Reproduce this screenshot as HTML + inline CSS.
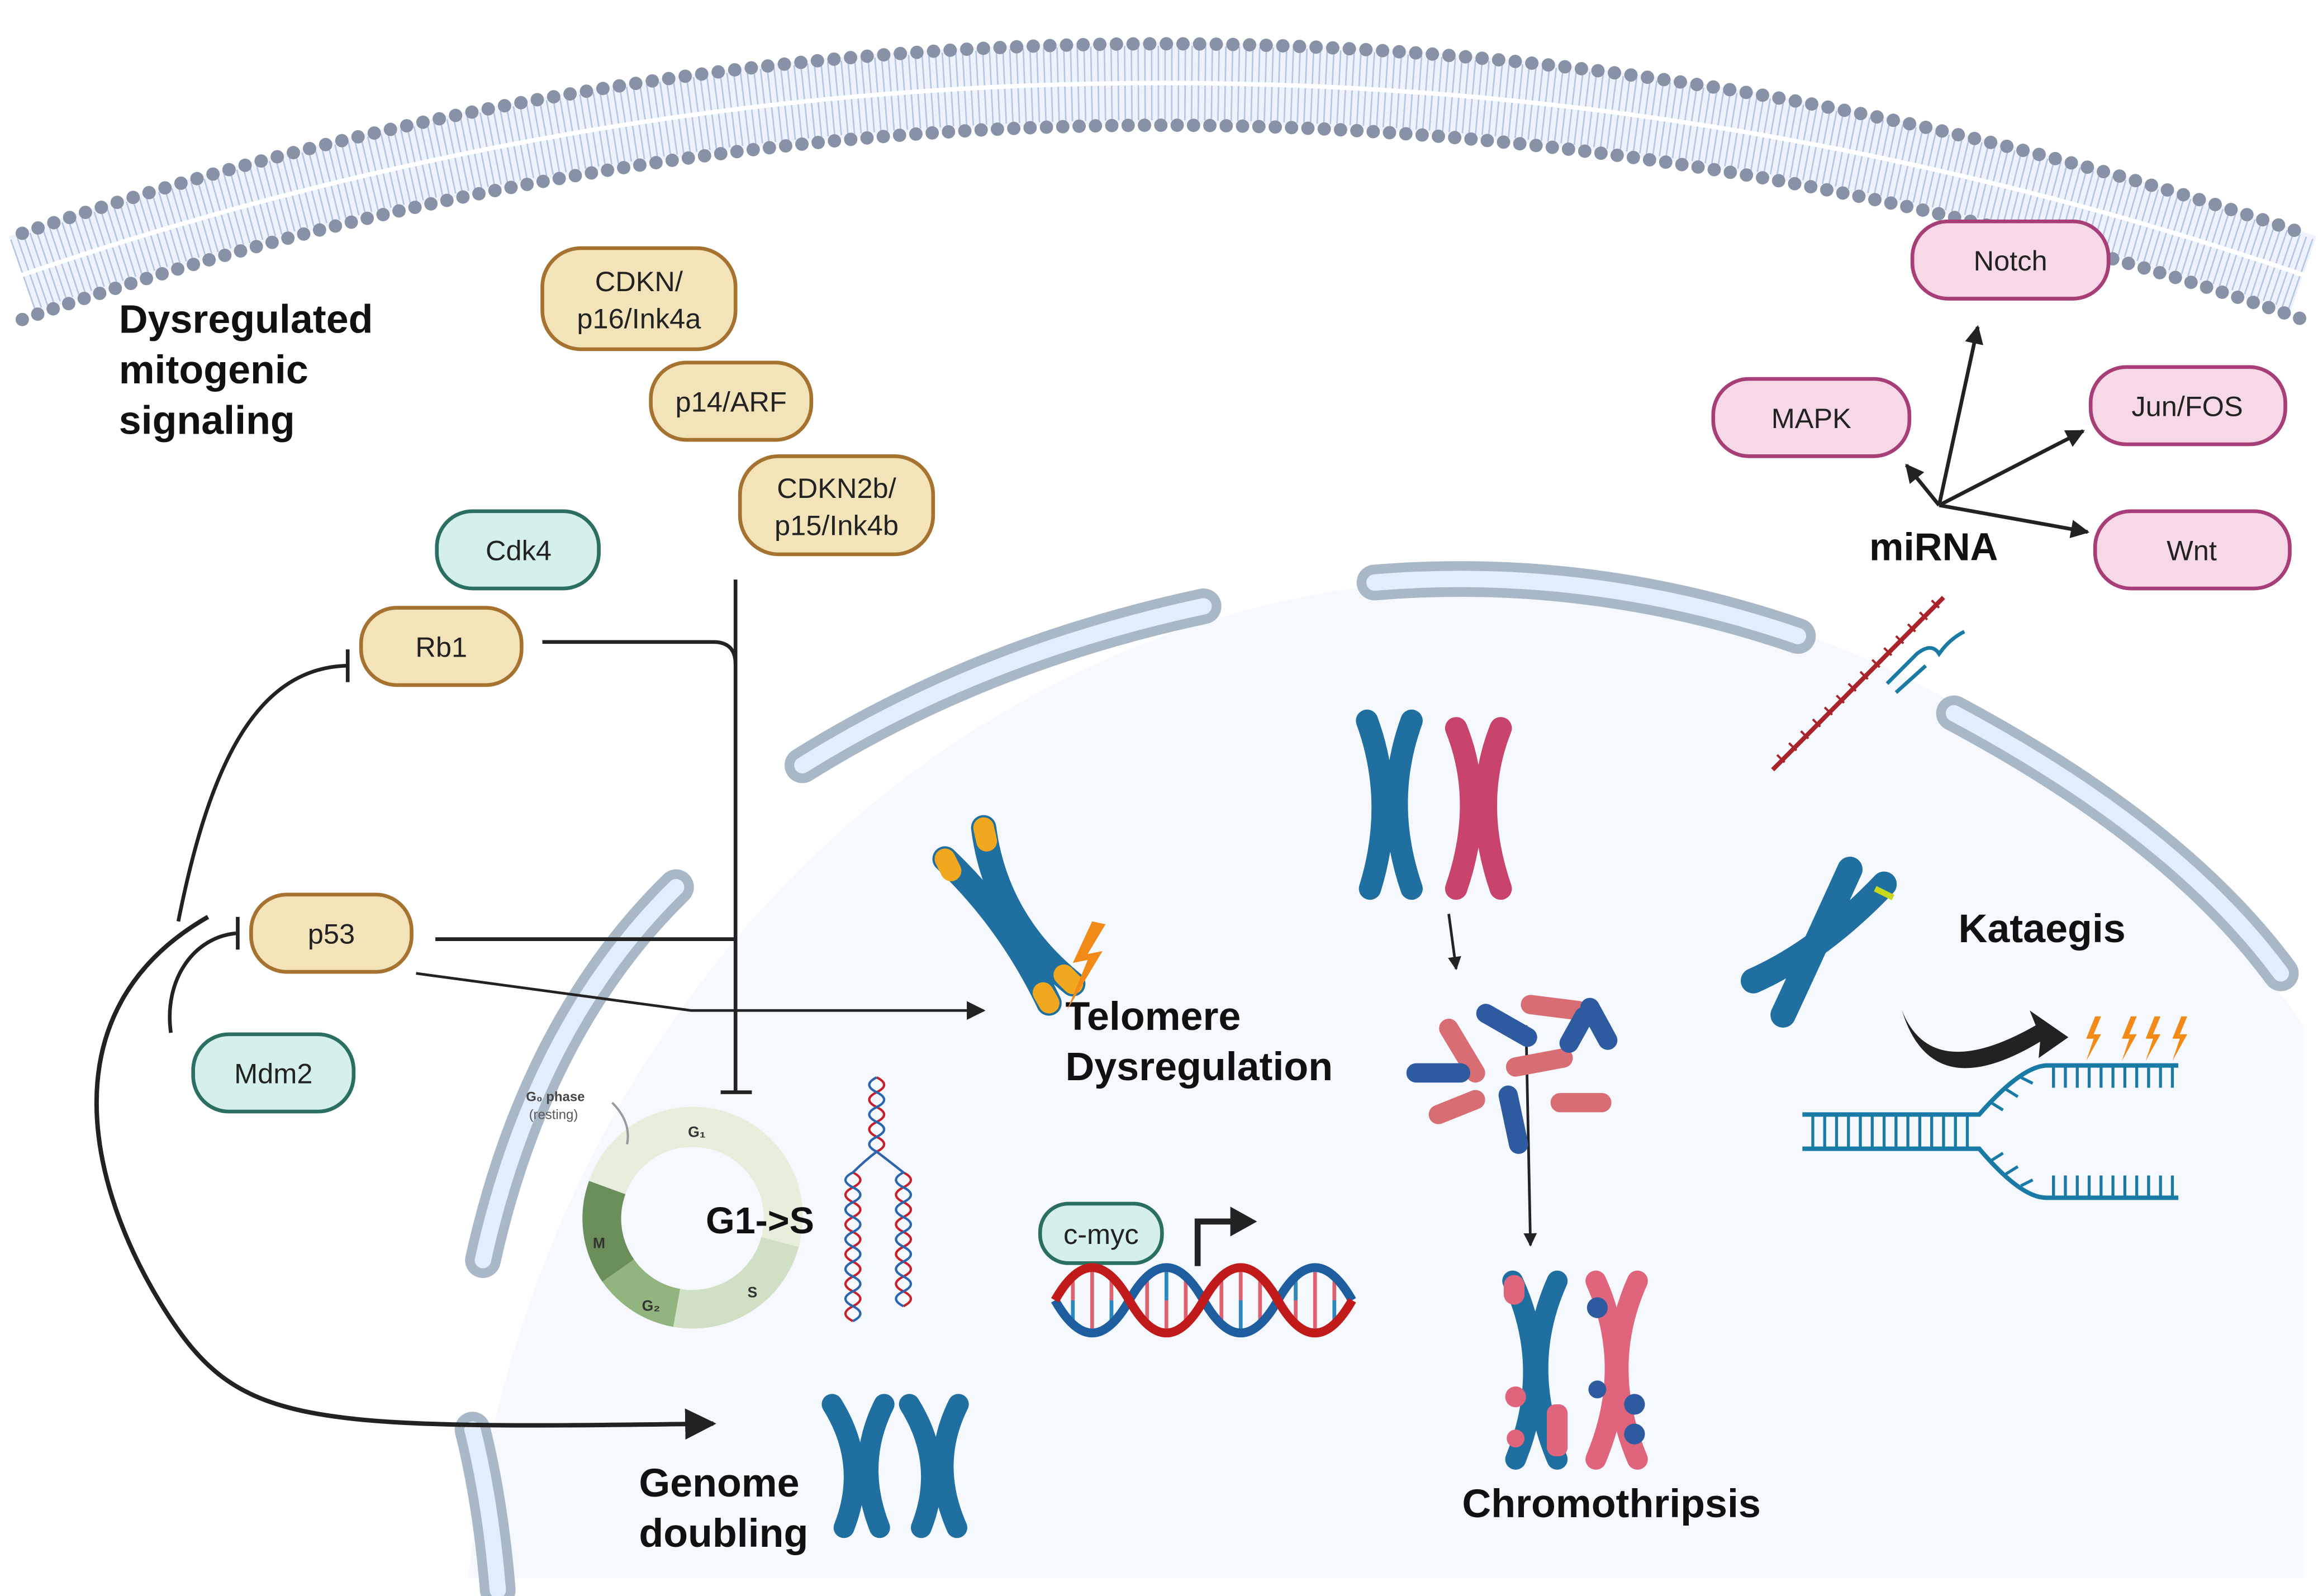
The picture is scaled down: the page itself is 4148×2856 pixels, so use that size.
<!DOCTYPE html>
<html><head><meta charset="utf-8"><style>
html,body{margin:0;padding:0;background:#fff;}
svg{display:block;}
text{font-family:"Liberation Sans",Arial,sans-serif;}
.b{font-weight:bold;fill:#111;}
.bx{font-size:19px;fill:#222;text-anchor:middle;}
</style></head><body>
<svg width="4148" height="2856" viewBox="0 0 1560 1074" preserveAspectRatio="none" xmlns="http://www.w3.org/2000/svg">
<defs>
<marker id="ah" viewBox="0 0 10 10" refX="9" refY="5" markerWidth="5" markerHeight="5" orient="auto"><path d="M0 0L10 5L0 10Z" fill="#222"/></marker>
<marker id="ahs" viewBox="0 0 10 10" refX="9" refY="5" markerWidth="7" markerHeight="7" orient="auto"><path d="M0 0L10 5L0 10Z" fill="#222"/></marker>
</defs>
<rect width="1560" height="1074" fill="#fff"/>
<path d="M315 1062 A690 760 0 0 1 1550 690 L1550 1062 Z" fill="#f5f8fd"/>
<path d="M15 185 A2345 2345 0 0 1 1550 185" fill="none" stroke="#eef2fa" stroke-width="55"/>
<path d="M15 185 A2345 2345 0 0 1 1550 185" fill="none" stroke="#b5c5e6" stroke-width="50" stroke-dasharray="1 3.5"/>
<path d="M15 185 A2345 2345 0 0 1 1550 185" fill="none" stroke="#fff" stroke-width="3"/>
<path d="M15 157 A2373 2373 0 0 1 1550 157" fill="none" stroke="#8792a6" stroke-width="9" stroke-linecap="round" stroke-dasharray="0 11.2"/>
<path d="M15 215 A2318 2318 0 0 1 1550 215" fill="none" stroke="#8792a6" stroke-width="9" stroke-linecap="round" stroke-dasharray="0 11"/>
<g fill="none" stroke-linecap="round">
<g stroke="#a9b8c6" stroke-width="24">
<path d="M455 597 Q360 690 325 848"/>
<path d="M540 515 Q660 440 810 408"/>
<path d="M925 392 Q1070 380 1210 428"/>
<path d="M1315 480 Q1465 560 1535 655"/>
<path d="M318 962 Q330 1010 335 1070"/>
</g>
<g stroke="#e2eefb" stroke-width="11">
<path d="M455 597 Q360 690 325 848"/>
<path d="M540 515 Q660 440 810 408"/>
<path d="M925 392 Q1070 380 1210 428"/>
<path d="M1315 480 Q1465 560 1535 655"/>
<path d="M318 962 Q330 1010 335 1070"/>
</g>
</g>
<!-- cell cycle -->
<path d="M396.4 794.7 A74 74 0 0 1 537.5 839.2 L512.4 832.4 A48 48 0 0 0 420.9 803.6 Z" fill="#e6efdc"/>
<path d="M537.5 839.2 A74 74 0 0 1 453.1 892.9 L457.7 867.3 A48 48 0 0 0 512.4 832.4 Z" fill="#cfe0c4"/>
<path d="M453.1 892.9 A74 74 0 0 1 405.4 862.5 L426.7 847.5 A48 48 0 0 0 457.7 867.3 Z" fill="#92b47f"/>
<path d="M405.4 862.5 A74 74 0 0 1 396.4 794.7 L420.9 803.6 A48 48 0 0 0 426.7 847.5 Z" fill="#6b8f5a"/>
<g font-size="10" fill="#333" font-weight="bold"><text x="463" y="765">G₁</text><text x="503" y="873">S</text><text x="432" y="882">G₂</text><text x="399" y="840">M</text></g>
<text x="354" y="741" font-size="9" fill="#444" font-weight="bold">G₀ phase</text>
<text x="356" y="753" font-size="9" fill="#555">(resting)</text>
<path d="M412 742 Q425 755 422 770" fill="none" stroke="#999" stroke-width="1.5"/>
<g class="b" font-size="27">
<text x="80" y="224">Dysregulated</text>
<text x="80" y="258">mitogenic</text>
<text x="80" y="292">signaling</text>
<text x="717" y="693">Telomere</text>
<text x="717" y="727">Dysregulation</text>
<text x="430" y="1007">Genome</text>
<text x="430" y="1041">doubling</text>
<text x="984" y="1021">Chromothripsis</text>
<text x="1318" y="634">Kataegis</text>
<text x="1258" y="377" font-size="26">miRNA</text>
<text x="475" y="830" font-size="25">G1-&gt;S</text>
</g>
<g fill="#f3e3b9" stroke="#a6722f" stroke-width="2.5">
<rect x="365" y="167" width="130" height="68" rx="26"/>
<rect x="438" y="244" width="108" height="52" rx="24"/>
<rect x="498" y="307" width="130" height="66" rx="26"/>
<rect x="243" y="409" width="108" height="52" rx="24"/>
<rect x="169" y="602" width="108" height="52" rx="24"/>
</g>
<g fill="#d5efea" stroke="#2b6f62" stroke-width="2.5">
<rect x="294" y="344" width="109" height="52" rx="24"/>
<rect x="130" y="696" width="108" height="52" rx="24"/>
<rect x="700" y="810" width="82" height="40" rx="19"/>
</g>
<g fill="#f7d8e7" stroke="#a83e78" stroke-width="2.5">
<rect x="1287" y="149" width="132" height="52" rx="24"/>
<rect x="1153" y="255" width="132" height="52" rx="24"/>
<rect x="1407" y="247" width="131" height="52" rx="24"/>
<rect x="1410" y="344" width="131" height="52" rx="24"/>
</g>
<g class="bx">
<text x="430" y="196">CDKN/</text><text x="430" y="221">p16/Ink4a</text>
<text x="492" y="277">p14/ARF</text>
<text x="563" y="335">CDKN2b/</text><text x="563" y="360">p15/Ink4b</text>
<text x="349" y="377">Cdk4</text>
<text x="297" y="442">Rb1</text>
<text x="223" y="635">p53</text>
<text x="184" y="729">Mdm2</text>
<text x="741" y="837">c-myc</text>
<text x="1353" y="182">Notch</text>
<text x="1219" y="288">MAPK</text>
<text x="1472" y="280">Jun/FOS</text>
<text x="1475" y="377">Wnt</text>
</g>
<g fill="none" stroke="#222" stroke-width="2.5">
<path d="M495 390 L495 735"/>
<path d="M485 735 L506 735"/>
<path d="M365 432 L480 432 Q495 432 495 447"/>
<path d="M293 632 L495 632"/>
<path d="M115 695 C110 660 130 630 160 628"/>
<path d="M160 617 L160 639"/>
<path d="M120 620 C140 520 170 450 233 448"/>
<path d="M234 437 L234 459"/>
<path d="M140 617 C30 680 60 800 110 880 C160 960 200 962 480 958" stroke-width="3" marker-end="url(#ahs)"/>
<path d="M280 655 L465 680 L662 680" stroke-width="1.8" marker-end="url(#ahs)"/>
<path d="M1305 340 L1331 220" marker-end="url(#ah)"/>
<path d="M1305 340 L1283 313" marker-end="url(#ah)"/>
<path d="M1305 340 L1402 290" marker-end="url(#ah)"/>
<path d="M1305 340 L1405 358" marker-end="url(#ah)"/>
<path d="M975 615 L980 652" stroke-width="1.8" marker-end="url(#ah)"/>
<path d="M1027 690 L1030 838" stroke-width="1.8" marker-end="url(#ah)"/>
<path d="M806 852 L806 822 L830 822" stroke-width="4"/>
</g>
<path d="M828 812 L846 822 L828 832Z" fill="#222"/>
<path d="M1280 680 Q1300 730 1370 690 L1366 680 L1392 698 L1372 712 L1373 701 Q1300 745 1280 680Z" fill="#222"/>
<g fill="none" stroke-width="1.6">
<path stroke="#c8202a" d="M590 725 q10 5 0 10 t0 10 t0 10 t0 10 t0 10 q-8 6 -16 14 q10 5 0 10 t0 10 t0 10 t0 10 t0 10 t0 10 t0 10 t0 10 t0 10 t0 10"/>
<path stroke="#2a66b0" d="M590 725 q-10 5 0 10 t0 10 t0 10 t0 10 t0 10 q-8 6 -16 14 q-10 5 0 10 t0 10 t0 10 t0 10 t0 10 t0 10 t0 10 t0 10 t0 10 t0 10"/>
<path stroke="#c8202a" d="M590 775 q8 6 18 14 q10 5 0 10 t0 10 t0 10 t0 10 t0 10 t0 10 t0 10 t0 10 t0 10"/>
<path stroke="#2a66b0" d="M590 775 q8 6 18 14 q-10 5 0 10 t0 10 t0 10 t0 10 t0 10 t0 10 t0 10 t0 10 t0 10"/>
</g>
<g stroke-width="2.5">
<path d="M722 862V888M735 856V894M748 856V894M772 856V894M785 856V894M798 862V888M822 862V888M835 856V894M848 856V894M872 856V894M885 856V894M898 862V888" stroke="#e06070"/>
<path d="M722 875V888M748 875V894M785 856V875M835 875V894M872 856V875M898 875V888" stroke="#2a8ac0"/>
</g>
<path d="M710 875 q25 44 50 0 t50 0 t50 0 t50 0" fill="none" stroke="#1f5e9e" stroke-width="6"/>
<path d="M710 875 q25 -44 50 0 t50 0 t50 0 t50 0" fill="none" stroke="#c01a1a" stroke-width="6"/>
<g stroke-linecap="round" fill="none">
<path d="M636 578 Q680 620 706 675" stroke="#1f6fa0" stroke-width="17"/>
<path d="M662 557 Q670 620 722 662" stroke="#1f6fa0" stroke-width="17"/>
<path d="M636 578 L640 586 M662 557 L664 566 M706 675 L702 668 M722 662 L716 656" stroke="#f2a81e" stroke-width="14"/>
</g>
<path d="M735 620 L722 648 L732 646 L718 680 L742 640 L732 642 L744 622Z" fill="#f28a18"/>
<g fill="none" stroke-linecap="round" stroke-width="15">
<path d="M920 485 Q940 540 922 598 M950 485 Q930 540 950 598" stroke="#1f6fa0"/>
<path d="M980 490 Q1000 540 980 598 M1010 490 Q990 540 1010 598" stroke="#c9446c"/>
</g>
<g stroke-linecap="round" stroke-width="13">
<path d="M975 692 L993 722 M1030 676 L1062 680 M968 750 L993 740 M1050 742 L1078 742 M1020 718 L1052 712" stroke="#d86e73"/>
<path d="M1000 682 L1028 698 M1070 678 L1082 700 M953 722 L983 722 M1015 737 L1022 770" stroke="#2e5ba0"/>
<path d="M1066 684 L1056 702" stroke="#2e5ba0"/>
</g>
<g fill="none" stroke-linecap="round" stroke-width="14">
<path d="M1018 862 Q1045 920 1020 982 M1048 862 Q1022 920 1048 982" stroke="#1f6fa0"/>
<path d="M1074 862 Q1100 920 1074 982 M1102 862 Q1076 920 1102 982" stroke="#e0647c"/>
</g>
<g fill="#e0647c"><rect x="1012" y="858" width="14" height="20" rx="7"/><rect x="1041" y="945" width="14" height="35" rx="6"/><circle cx="1020" cy="940" r="7"/><circle cx="1020" cy="968" r="6"/></g>
<g fill="#2e5ba0"><circle cx="1075" cy="880" r="7"/><circle cx="1100" cy="945" r="7"/><circle cx="1100" cy="965" r="7"/><circle cx="1075" cy="935" r="6"/></g>
<g fill="none" stroke-linecap="round" stroke-width="14" stroke="#1f6fa0">
<path d="M560 945 Q585 985 568 1028 M595 945 Q575 985 592 1028"/>
<path d="M612 945 Q637 985 620 1028 M645 945 Q625 985 644 1028"/>
</g>
<g fill="none" stroke-linecap="round" stroke-width="17" stroke="#1f6fa0">
<path d="M1180 660 Q1225 640 1268 595"/>
<path d="M1200 683 Q1220 640 1245 585"/>
</g>
<path d="M1262 598 L1274 604" stroke="#c8d81e" stroke-width="4"/>
<g fill="none" stroke="#1a7aa6">
<path d="M1213 750 L1332 750 Q1360 718 1377 717 L1466 717" stroke-width="3"/>
<path d="M1213 773 L1332 773 Q1360 806 1377 806 L1466 806" stroke-width="3"/>
<path d="M1220 750V773M1228 750V773M1236 750V773M1244 750V773M1252 750V773M1260 750V773M1268 750V773M1276 750V773M1284 750V773M1292 750V773M1300 750V773M1308 750V773M1316 750V773M1324 750V773" stroke-width="2"/>
<path d="M1382 717V732M1390 717V732M1398 717V732M1406 717V732M1414 717V732M1422 717V732M1430 717V732M1438 717V732M1446 717V732M1454 717V732M1462 717V732M1340 742l8 5M1350 733l8 5M1360 725l8 4" stroke-width="2"/>
<path d="M1382 806V791M1390 806V791M1398 806V791M1406 806V791M1414 806V791M1422 806V791M1430 806V791M1438 806V791M1446 806V791M1454 806V791M1462 806V791M1340 781l8 -5M1350 790l8 -5M1360 798l8 -4" stroke-width="2"/>
</g>
<g fill="#f28a18">
<path d="M1410 684 l-6 15 h5 l-5 15 l10 -18 h-5 l5 -12z"/>
<path d="M1434 684 l-6 15 h5 l-5 15 l10 -18 h-5 l5 -12z"/>
<path d="M1450 684 l-6 15 h5 l-5 15 l10 -18 h-5 l5 -12z"/>
<path d="M1468 684 l-6 15 h5 l-5 15 l10 -18 h-5 l5 -12z"/>
</g>
<path d="M1193 518 L1308 402" stroke="#a8242a" stroke-width="3"/>
<path d="M1196 508l5 5M1204 500l5 5M1212 492l5 5M1220 484l5 5M1228 476l5 5M1236 468l5 5M1244 460l5 5M1252 452l5 5M1260 444l5 5M1268 436l5 5M1276 428l5 5M1284 420l5 5M1292 412l5 5M1300 404l5 5" stroke="#a8242a" stroke-width="1.5"/>
<path d="M1270 460 L1290 440 Q1300 432 1305 440 Q1312 430 1322 425 M1276 466 L1296 448" fill="none" stroke="#1a7aa6" stroke-width="2.5"/>
</svg>
</body></html>
